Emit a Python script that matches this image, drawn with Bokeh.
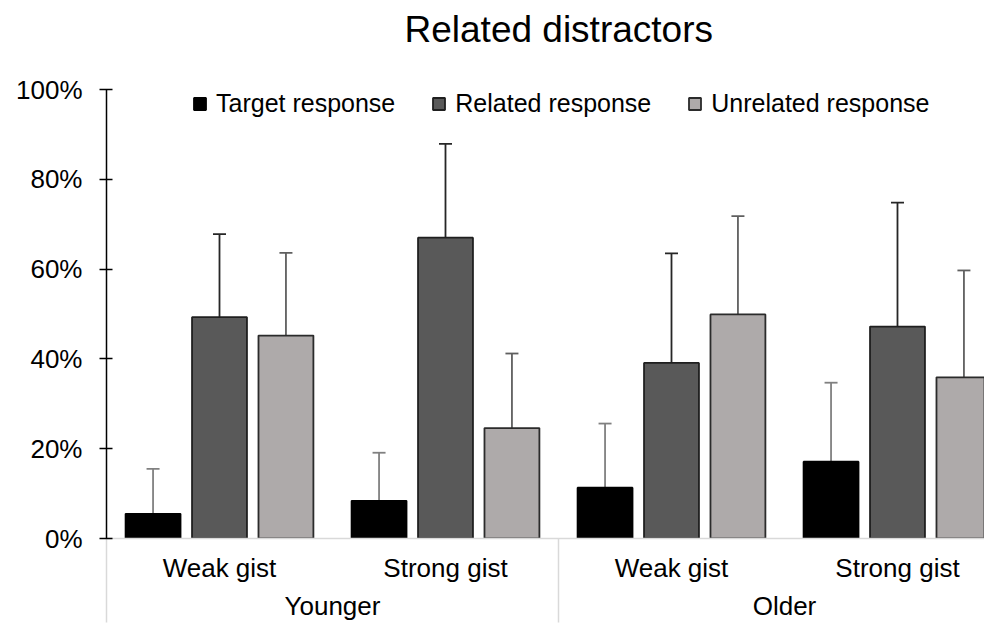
import json
from bokeh.plotting import figure
from bokeh.models import (ColumnDataSource, FixedTicker, LinearAxis, Range1d, Legend,
                          LegendItem, Whisker, TeeHead, CustomJSTickFormatter, Title)
from bokeh.embed import file_html
from bokeh.resources import INLINE

# ---- data (percent) ----
groups = ["Younger", "Older"]
gist = ["Weak gist", "Strong gist", "Weak gist", "Strong gist"]
series = ["Target response", "Related response", "Unrelated response"]
target = [5.5, 8.4, 11.3, 17.1]
target_err = [10.0, 10.7, 14.3, 17.6]
related = [49.3, 67.0, 39.1, 47.2]
related_err = [18.5, 20.9, 24.4, 27.6]
unrelated = [45.2, 24.6, 49.9, 35.9]
unrelated_err = [18.4, 16.6, 21.9, 23.8]
y_ticks = [0, 20, 40, 60, 80, 100]
title = "Related distractors"

FONT = "Liberation Sans"
bar_fill = ["#000000", "#595959", "#AEAAAA"]
bar_line = ["#000000", "#1f1f1f", "#2b2b2b"]
err_col = ["#808080", "#262626", "#5f5f5f"]

p = figure(width=984, height=623, output_backend="svg", toolbar_location=None,
           x_range=Range1d(0, 3.885), y_range=Range1d(0, 100),
           x_axis_location=None, y_axis_location=None,
           min_border_left=106, min_border_right=0, min_border_top=89, min_border_bottom=84)
p.outline_line_color = None
p.background_fill_color = "white"
p.border_fill_color = "white"
for g in p.grid:
    g.visible = False

# spacer between frame and title (blank title panel)
p.add_layout(Title(text=" ", text_font_size="1px", standoff=32), "above")

p.title.text = title
p.title.text_font = FONT
p.title.text_font_size = "37px"
p.title.text_font_style = "normal"
p.title.text_color = "black"
p.title.align = "left"
p.title.offset = 298
p.title.standoff = 10

# y axis
yaxis = LinearAxis(ticker=FixedTicker(ticks=y_ticks),
                   formatter=CustomJSTickFormatter(code="return tick.toFixed(0) + '%'"))
yaxis.axis_line_color = "black"
yaxis.axis_line_width = 1.5
yaxis.major_tick_line_color = "black"
yaxis.major_tick_line_width = 1.5
yaxis.major_tick_in = 6
yaxis.major_tick_out = 7
yaxis.minor_tick_line_color = None
yaxis.major_label_text_font = FONT
yaxis.major_label_text_font_size = "26px"
yaxis.major_label_text_color = "black"
yaxis.major_label_standoff = 17
p.add_layout(yaxis, "left")

# x axis: sub-categories (minor ticks act as the group separators)
centers = [i + 0.5 for i in range(len(gist))]
xa = LinearAxis(ticker=FixedTicker(ticks=centers, minor_ticks=[0, 2, 4]),
                formatter=CustomJSTickFormatter(
                    code="const L = %s; return L[Math.floor(tick)];" % json.dumps(gist)))
xa.axis_line_color = "#d9d9d9"
xa.axis_line_width = 1.5
xa.major_tick_line_color = None
xa.major_tick_in = 0
xa.major_tick_out = 0
xa.minor_tick_line_color = "#d9d9d9"
xa.minor_tick_line_width = 1.5
xa.minor_tick_in = 0
xa.minor_tick_out = 84
xa.major_label_text_font = FONT
xa.major_label_text_font_size = "26px"
xa.major_label_text_color = "black"
xa.major_label_standoff = 14 - 84
p.add_layout(xa, "below")

# x axis: groups
gcenters = [1.0, 3.0]
xb = LinearAxis(ticker=FixedTicker(ticks=gcenters),
                formatter=CustomJSTickFormatter(
                    code="const L = %s; return L[Math.floor(tick / 2)];" % json.dumps(groups)))
xb.axis_line_color = None
xb.major_tick_line_color = None
xb.minor_tick_line_color = None
xb.major_tick_in = 0
xb.major_tick_out = 0
xb.major_label_text_font = FONT
xb.major_label_text_font_size = "26px"
xb.major_label_text_color = "black"
xb.major_label_standoff = 5
p.add_layout(xb, "below")

# bars + error bars
vals = [target, related, unrelated]
errs = [target_err, related_err, unrelated_err]
offsets = [-0.294, 0.0, 0.294]
renderers = []
for k in range(3):
    xs = [c + offsets[k] for c in centers]
    up = [v + e for v, e in zip(vals[k], errs[k])]
    lo = [max(0.0, v - e) for v, e in zip(vals[k], errs[k])]
    src = ColumnDataSource(dict(x=xs, top=vals[k], upper=up, lower=lo))
    r = p.vbar(x="x", top="top", bottom=0, width=0.243, source=src,
               fill_color=bar_fill[k], line_color=bar_line[k], line_width=1.8)
    renderers.append(r)
    has_low = all(v - e > 0 for v, e in zip(vals[k], errs[k]))
    w = Whisker(source=src, base="x", upper="upper", lower="lower", dimension="height",
                line_color=err_col[k], line_width=1.8,
                upper_head=TeeHead(size=13, line_color=err_col[k], line_width=1.8),
                lower_head=TeeHead(size=13, line_color=err_col[k], line_width=1.8) if has_low else None)
    p.add_layout(w)

legend = Legend(items=[LegendItem(label=series[k], renderers=[renderers[k]]) for k in range(3)],
                orientation="horizontal", location=(86, 420),
                glyph_width=15, glyph_height=15, label_standoff=9, spacing=36,
                padding=0, margin=0, border_line_color=None, background_fill_alpha=0,
                label_text_font=FONT, label_text_font_size="25px", label_text_color="black")
p.add_layout(legend)

open("out.html", "w").write(file_html(p, INLINE))
